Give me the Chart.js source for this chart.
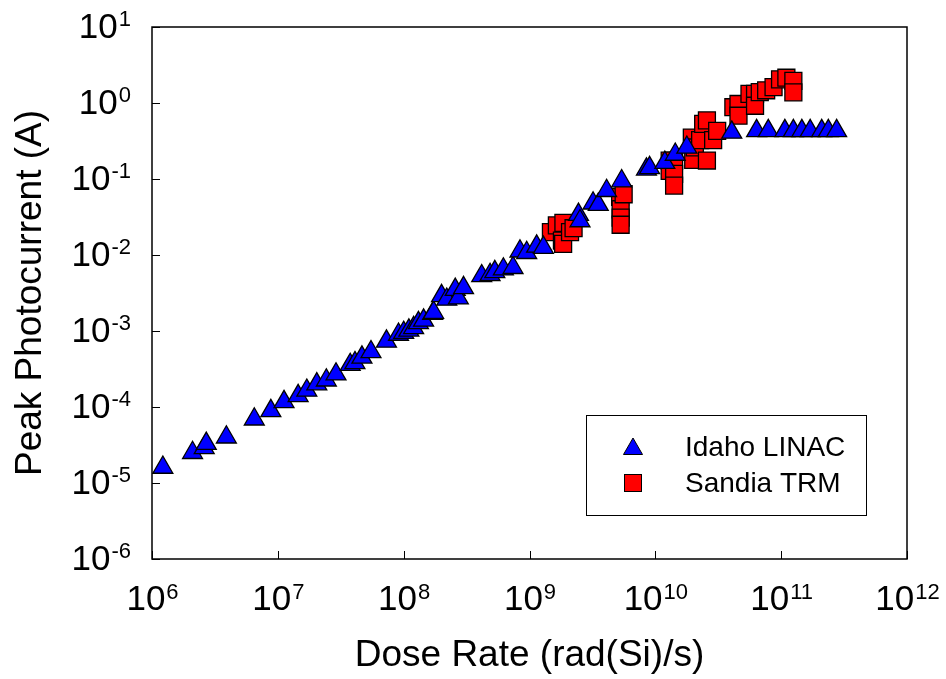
<!DOCTYPE html>
<html>
<head>
<meta charset="utf-8">
<script src="https://cdn.jsdelivr.net/npm/chart.js@4.4.1/dist/chart.umd.min.js"></script>
<style>
  html, body { margin: 0; padding: 0; background: #fff; }
  #wrap { width: 946px; height: 679px; }
</style>
</head>
<body>
<div id="wrap"><canvas id="photoChart" width="946" height="679"></canvas></div>
<script>
// Idaho LINAC (blue triangles)
const idahoX = [1.22e6, 2.1e6, 2.6e6, 2.7e6, 3.9e6, 6.5e6, 8.8e6, 1.12e7, 1.45e7, 1.7e7,
    2.04e7, 2.43e7, 2.9e7, 3.76e7, 4.1e7, 4.66e7, 5.5e7, 7.3e7, 9.1e7, 1.0e8,
    1.1e8, 1.2e8, 1.31e8, 1.44e8, 1.7e8, 1.73e8, 2.0e8, 2.2e8, 2.57e8, 2.72e8,
    2.99e8, 4.17e8, 4.86e8, 5.3e8, 6.2e8, 7.4e8, 8.4e8, 9.5e8, 1.14e9, 1.29e9,
    2.45e9, 2.52e9, 3.2e9, 3.52e9, 4.1e9, 5.4e9, 8.5e9, 9.0e9, 1.19e10, 1.44e10,
    1.78e10, 4.05e10, 6.38e10, 7.9e10, 1.07e11, 1.25e11, 1.46e11, 1.7e11, 2.1e11, 2.37e11,
    2.76e11];
const idahoY = [1.6e-5, 2.5e-5, 2.9e-5, 3.3e-5, 4.0e-5, 6.9e-5, 8.9e-5, 1.17e-4, 1.4e-4, 1.65e-4,
    2.0e-4, 2.25e-4, 2.7e-4, 3.6e-4, 3.8e-4, 4.5e-4, 5.3e-4, 7.3e-4, 9.0e-4, 9.5e-4,
    1.02e-3, 1.1e-3, 1.28e-3, 1.38e-3, 1.7e-3, 1.75e-3, 2.9e-3, 2.6e-3, 3.5e-3, 2.7e-3,
    3.7e-3, 5.3e-3, 5.5e-3, 6.0e-3, 6.5e-3, 6.8e-3, 1.12e-2, 1.07e-2, 1.3e-2, 1.25e-2,
    3.4e-2, 2.8e-2, 4.8e-2, 4.6e-2, 7.0e-2, 9.4e-2, 0.134, 0.14, 0.164, 0.21,
    0.26, 0.41, 0.43, 0.43, 0.43, 0.43, 0.43, 0.43, 0.43, 0.43,
    0.43];

// Sandia TRM (red squares)
const sandiaX = [1.48e9, 1.65e9, 1.81e9, 1.86e9, 1.85e9, 2.1e9, 2.24e9, 5.25e9, 5.3e9, 5.3e9,
    5.3e9, 5.6e9, 1.3e10, 1.3e10, 1.41e10, 1.41e10, 1.41e10, 1.95e10, 2.0e10, 2.06e10,
    2.27e10, 2.4e10, 2.57e10, 2.57e10, 2.88e10, 3.1e10, 4.17e10, 4.58e10, 4.58e10, 5.6e10,
    6.2e10, 6.2e10, 6.76e10, 7.6e10, 8.7e10, 9.8e10, 1.1e11, 1.25e11, 1.25e11];
const sandiaY = [2.0e-2, 2.45e-2, 1.55e-2, 2.65e-2, 1.4e-2, 2.0e-2, 2.25e-2, 5.8e-2, 4.0e-2, 3.1e-2,
    2.5e-2, 6.3e-2, 0.175, 0.128, 0.175, 0.117, 0.082, 0.35, 0.178, 0.26,
    0.325, 0.53, 0.175, 0.59, 0.325, 0.43, 0.88, 0.97, 0.68, 1.32,
    1.32, 0.92, 1.39, 1.47, 1.62, 2.05, 2.15, 1.95, 1.38];

const xTickPowers = [6, 7, 8, 9, 10, 11, 12];
const yTickPowers = [1, 0, -1, -2, -3, -4, -5, -6];
const xTitle = 'Dose Rate (rad(Si)/s)';
const yTitle = 'Peak Photocurrent (A)';

const FONT = "'Liberation Sans', Arial, sans-serif";

function drawTri(ctx, x, y, r) {
    ctx.beginPath();
    ctx.moveTo(x, y - r);
    ctx.lineTo(x + r * Math.sqrt(3) / 2, y + r / 2);
    ctx.lineTo(x - r * Math.sqrt(3) / 2, y + r / 2);
    ctx.closePath();
}

// frame, inner ticks, power-of-ten labels, titles, legend box
const axesPlugin = {
    id: 'axesPlugin',
    afterDraw(chart) {
        const ctx = chart.ctx;
        const a = chart.chartArea;
        const xs = chart.scales.x, ys = chart.scales.y;
        ctx.save();
        ctx.strokeStyle = '#000';
        ctx.lineWidth = 1.5;
        ctx.strokeRect(a.left, a.top, a.right - a.left, a.bottom - a.top);

        ctx.fillStyle = '#000';
        ctx.beginPath();
        xTickPowers.forEach(p => {
            const px = Math.round(xs.getPixelForValue(Math.pow(10, p))) + 0.5;
            ctx.moveTo(px, a.bottom);
            ctx.lineTo(px, a.bottom - 8);
        });
        yTickPowers.forEach(p => {
            const py = Math.round(ys.getPixelForValue(Math.pow(10, p))) + 0.5;
            ctx.moveTo(a.left, py);
            ctx.lineTo(a.left + 8, py);
        });
        ctx.lineWidth = 1;
        ctx.stroke();

        ctx.textBaseline = 'middle';
        const base = '35px ' + FONT, sup = '22px ' + FONT;
        // x labels
        xTickPowers.forEach(p => {
            const px = xs.getPixelForValue(Math.pow(10, p));
            ctx.font = base; const w1 = ctx.measureText('10').width;
            ctx.font = sup; const w2 = ctx.measureText(String(p)).width;
            const x0 = px - (w1 + w2) / 2;
            ctx.textAlign = 'left';
            ctx.font = base; ctx.fillText('10', x0, 600);
            ctx.font = sup; ctx.fillText(String(p), x0 + w1 + 1, 593);
        });
        // y labels
        yTickPowers.forEach(p => {
            const py = ys.getPixelForValue(Math.pow(10, p));
            ctx.font = sup; const w2 = ctx.measureText(String(p)).width;
            ctx.font = base; const w1 = ctx.measureText('10').width;
            const right = 131;
            ctx.textAlign = 'left';
            ctx.font = base; ctx.fillText('10', right - w2 - w1 - 1, py + 1);
            ctx.font = sup; ctx.fillText(String(p), right - w2, py - 7);
        });

        // axis titles
        ctx.font = '37px ' + FONT;
        ctx.textAlign = 'center';
        ctx.fillText(xTitle, (a.left + a.right) / 2, 656);
        ctx.save();
        ctx.translate(31, (a.top + a.bottom) / 2);
        ctx.rotate(-Math.PI / 2);
        ctx.fillText(yTitle, 0, 0);
        ctx.restore();

        // legend
        ctx.lineWidth = 1;
        ctx.strokeStyle = '#000';
        ctx.fillStyle = '#fff';
        ctx.fillRect(586, 415, 280, 100);
        ctx.strokeRect(586.5, 415.5, 280, 100);
        const ds = chart.data.datasets;
        ctx.fillStyle = ds[0].backgroundColor;
        drawTri(ctx, 633, 449, 11);
        ctx.fill(); ctx.stroke();
        ctx.fillStyle = ds[1].backgroundColor;
        ctx.fillRect(624.5, 474.5, 17, 17);
        ctx.strokeRect(624.5, 474.5, 17, 17);
        ctx.fillStyle = '#000';
        ctx.font = '28px ' + FONT;
        ctx.textAlign = 'left';
        ctx.fillText(ds[0].label, 685, 448);
        ctx.fillText(ds[1].label, 685, 484);
        ctx.restore();
    }
};

new Chart(document.getElementById('photoChart').getContext('2d'), {
    type: 'scatter',
    data: {
        datasets: [
            {
                label: 'Idaho LINAC',
                data: idahoX.map((x, i) => ({ x: x, y: idahoY[i] })),
                pointStyle: 'triangle',
                pointRadius: 11.5,
                backgroundColor: '#0000ff',
                borderColor: '#000',
                borderWidth: 1.3
            },
            {
                label: 'Sandia TRM',
                data: sandiaX.map((x, i) => ({ x: x, y: sandiaY[i] })),
                pointStyle: 'rect',
                pointRadius: 12,
                backgroundColor: '#ff0000',
                borderColor: '#000',
                borderWidth: 1.3
            }
        ]
    },
    options: {
        responsive: false,
        animation: false,
        layout: { padding: { left: 152, right: 39, top: 27, bottom: 120 } },
        plugins: { legend: { display: false }, tooltip: { enabled: false } },
        scales: {
            x: { type: 'logarithmic', min: 1e6, max: 1e12, display: false },
            y: { type: 'logarithmic', min: 1e-6, max: 10, display: false }
        }
    },
    plugins: [axesPlugin]
});
</script>
</body>
</html>
